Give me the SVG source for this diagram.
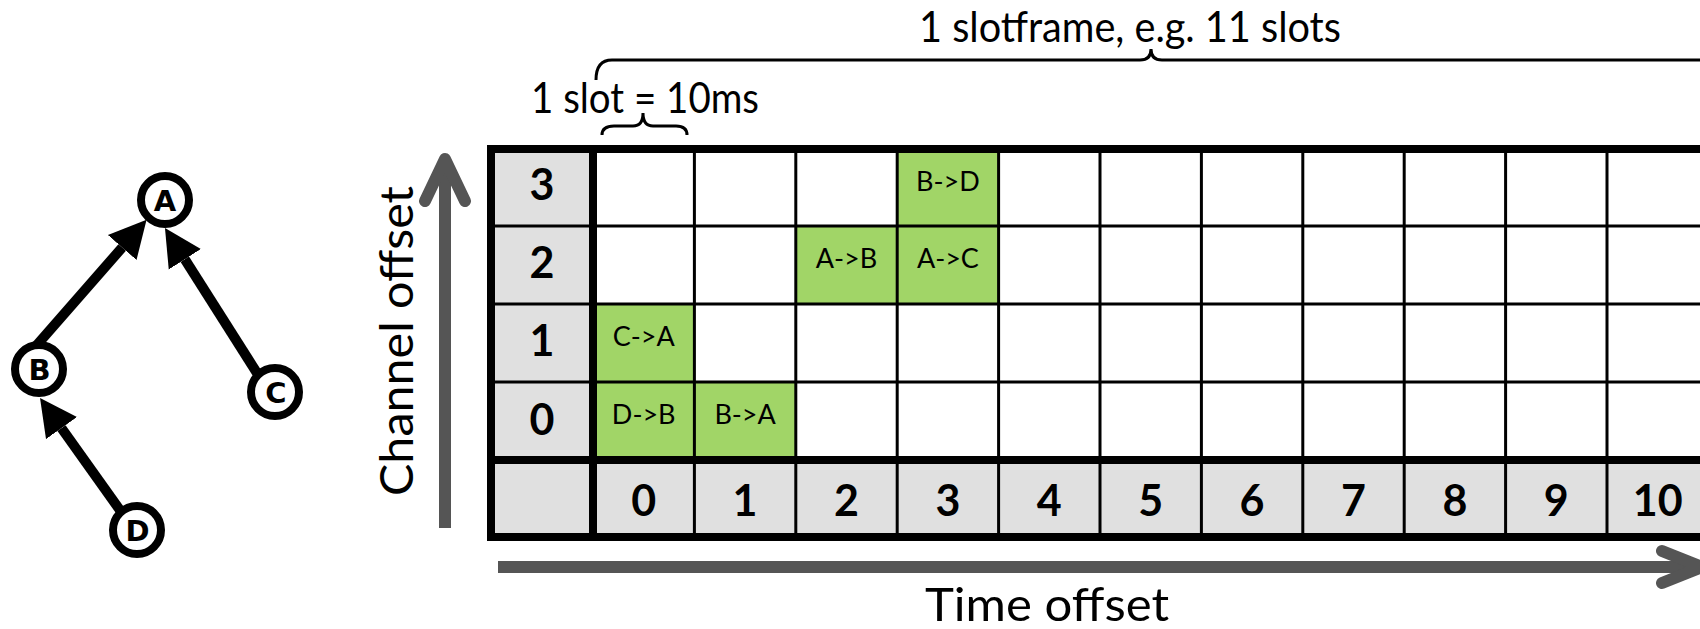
<svg xmlns="http://www.w3.org/2000/svg" width="1700" height="629" viewBox="0 0 1700 629">
  <style>
    .node circle { fill: #fff; stroke: #000; stroke-width: 8; }
    .node text { font-family: "DejaVu Sans", sans-serif; font-weight: bold; font-size: 29px; text-anchor: middle; fill: #000; }
    .edge { stroke: #000; stroke-width: 10; fill: none; }
    .axis { stroke: #555; stroke-width: 12; fill: none; }
    .axis-head { stroke: #555; stroke-width: 12; fill: none; stroke-linecap: round; stroke-linejoin: round; }
    .label { fill: #e0e0e0; }
    .busy { fill: #a1d567; }
    .thin { stroke: #000; stroke-width: 3; }
    .thick { stroke: #000; stroke-width: 8; }
    .brace { stroke: #000; stroke-width: 3; fill: none; }
    .num { font-family: Lato, "Liberation Sans", sans-serif; font-weight: bold; font-size: 43px; text-anchor: middle; fill: #000; }
    .cell { font-family: Lato, "Liberation Sans", sans-serif; font-size: 27px; text-anchor: middle; fill: #000; }
    .title { font-family: Lato, "Liberation Sans", sans-serif; font-size: 43px; fill: #000; }
    .axis-title { font-family: Lato, "Liberation Sans", sans-serif; font-size: 47px; fill: #000; }
  </style>
  <defs>
    <marker id="head" markerUnits="userSpaceOnUse" viewBox="0 -20 40 40" refX="0" refY="0" markerWidth="40" markerHeight="40" orient="auto">
      <path d="M0,-19 L37,0 L0,19 Z" fill="#000"/>
    </marker>
  </defs>

  <!-- routing tree: children point to their parent -->
  <g id="connectors">
    <line class="edge" x1="36" y1="346" x2="122.2" y2="247.5" marker-end="url(#head)"/>
    <line class="edge" x1="257" y1="373" x2="184.8" y2="259.3" marker-end="url(#head)"/>
    <line class="edge" x1="122" y1="513" x2="61.5" y2="428.1" marker-end="url(#head)"/>
  </g>
  <g id="node-A" class="node"><circle cx="165" cy="200" r="24"/><text x="165" y="210.5">A</text></g>
  <g id="node-B" class="node"><circle cx="39" cy="369" r="24"/><text x="39.5" y="379.5">B</text></g>
  <g id="node-C" class="node"><circle cx="275" cy="392" r="24"/><text x="276" y="402.5">C</text></g>
  <g id="node-D" class="node"><circle cx="137" cy="530" r="24"/><text x="137.5" y="540.5">D</text></g>

  <!-- slotframe grid -->
  <g id="grid">
    <rect class="label" x="491" y="149" width="102" height="388"/>
    <rect class="label" x="593" y="460" width="1107" height="77"/>
    <rect class="busy" x="593" y="304" width="101.4" height="78"/>
    <rect class="busy" x="593" y="382" width="101.4" height="78"/>
    <rect class="busy" x="694.4" y="382" width="101.4" height="78"/>
    <rect class="busy" x="795.8" y="226" width="101.4" height="78"/>
    <rect class="busy" x="897.2" y="226" width="101.4" height="78"/>
    <rect class="busy" x="897.2" y="149" width="101.4" height="77"/>

    <g class="thin">
      <line x1="491" y1="226" x2="1700" y2="226"/>
      <line x1="491" y1="304" x2="1700" y2="304"/>
      <line x1="491" y1="382" x2="1700" y2="382"/>
      <line x1="694.4" y1="149" x2="694.4" y2="537"/>
      <line x1="795.8" y1="149" x2="795.8" y2="537"/>
      <line x1="897.2" y1="149" x2="897.2" y2="537"/>
      <line x1="998.6" y1="149" x2="998.6" y2="537"/>
      <line x1="1100" y1="149" x2="1100" y2="537"/>
      <line x1="1201.4" y1="149" x2="1201.4" y2="537"/>
      <line x1="1302.8" y1="149" x2="1302.8" y2="537"/>
      <line x1="1404.2" y1="149" x2="1404.2" y2="537"/>
      <line x1="1505.6" y1="149" x2="1505.6" y2="537"/>
      <line x1="1607" y1="149" x2="1607" y2="537"/>
    </g>
    <g class="thick">
      <line x1="487" y1="149" x2="1700" y2="149"/>
      <line x1="487" y1="460" x2="1700" y2="460"/>
      <line x1="487" y1="537" x2="1700" y2="537"/>
      <line x1="491" y1="145" x2="491" y2="541"/>
      <line x1="593" y1="145" x2="593" y2="541"/>
    </g>

    <!-- channel offsets -->
    <text class="num" x="542" y="200">3</text>
    <text class="num" x="542" y="278">2</text>
    <text class="num" x="542" y="356">1</text>
    <text class="num" x="542" y="435">0</text>

    <!-- time offsets -->
    <text class="num" x="643.7" y="516">0</text>
    <text class="num" x="745.1" y="516">1</text>
    <text class="num" x="846.5" y="516">2</text>
    <text class="num" x="947.9" y="516">3</text>
    <text class="num" x="1049.3" y="516">4</text>
    <text class="num" x="1150.7" y="516">5</text>
    <text class="num" x="1252.1" y="516">6</text>
    <text class="num" x="1353.5" y="516">7</text>
    <text class="num" x="1454.9" y="516">8</text>
    <text class="num" x="1556.3" y="516">9</text>
    <text class="num" x="1657.7" y="516">10</text>

    <!-- scheduled cells -->
    <text class="cell" x="643.7" y="346">C-&gt;A</text>
    <text class="cell" x="643.7" y="424">D-&gt;B</text>
    <text class="cell" x="745.1" y="424">B-&gt;A</text>
    <text class="cell" x="846.5" y="268">A-&gt;B</text>
    <text class="cell" x="947.9" y="268">A-&gt;C</text>
    <text class="cell" x="947.9" y="191">B-&gt;D</text>
  </g>

  <!-- axes -->
  <g id="axes">
    <line class="axis" x1="445" y1="528" x2="445" y2="164"/>
    <polyline class="axis-head" points="425,201 445,159 465,201"/>
    <line class="axis" x1="498" y1="567" x2="1696" y2="567"/>
    <polyline class="axis-head" points="1662,551 1702,567 1662,583"/>
    <text class="axis-title" x="413" y="341" transform="rotate(-90 413 341)" text-anchor="middle" textLength="310" lengthAdjust="spacingAndGlyphs">Channel offset</text>
    <text class="axis-title" x="925" y="621" textLength="244" lengthAdjust="spacingAndGlyphs">Time offset</text>
  </g>

  <!-- braces -->
  <g id="braces">
    <path class="brace" d="M596,80 Q596,60 612,60 L1140,60 Q1151,60 1151,49 Q1151,60 1162,60 L1700,60"/>
    <path class="brace" d="M602,135 Q602,126 614,126 L633,126 Q643,126 643,113 Q643,126 653,126 L676,126 Q687,126 687,135"/>
    <text class="title" x="919" y="42" textLength="422" lengthAdjust="spacingAndGlyphs">1 slotframe, e.g. 11 slots</text>
    <text class="title" x="531" y="113" textLength="228" lengthAdjust="spacingAndGlyphs">1 slot = 10ms</text>
  </g>
</svg>
